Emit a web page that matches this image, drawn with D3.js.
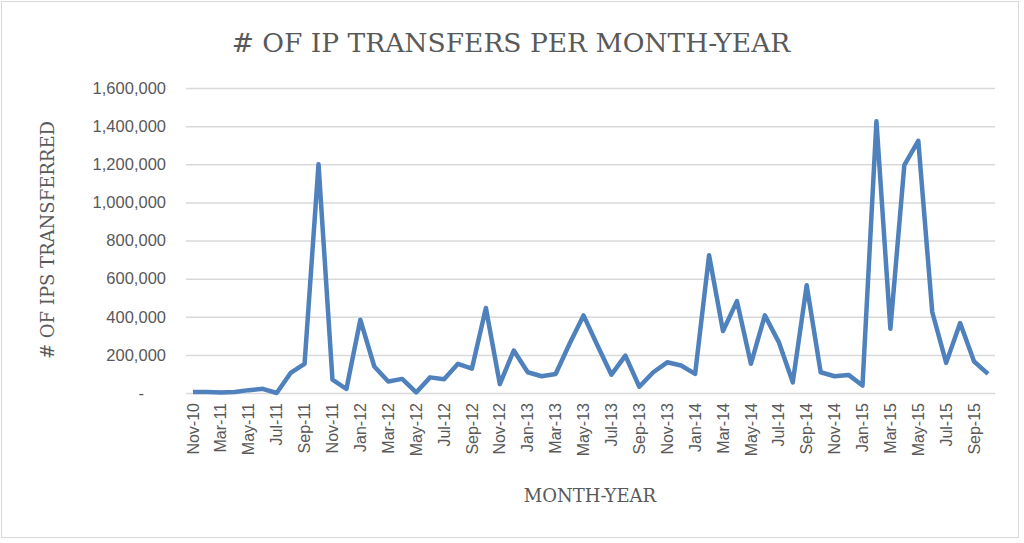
<!DOCTYPE html>
<html><head><meta charset="utf-8">
<script src="https://cdn.jsdelivr.net/npm/d3@7"></script>
<style>body{margin:0;background:#fff}</style></head>
<body><svg id="c" width="1024" height="543"></svg>
<script>
const months = ["Nov-10","Jan-11","Mar-11","Apr-11","May-11","Jun-11","Jul-11","Aug-11","Sep-11","Oct-11","Nov-11","Dec-11",
"Jan-12","Feb-12","Mar-12","Apr-12","May-12","Jun-12","Jul-12","Aug-12","Sep-12","Oct-12","Nov-12","Dec-12",
"Jan-13","Feb-13","Mar-13","Apr-13","May-13","Jun-13","Jul-13","Aug-13","Sep-13","Oct-13","Nov-13","Dec-13",
"Jan-14","Feb-14","Mar-14","Apr-14","May-14","Jun-14","Jul-14","Aug-14","Sep-14","Oct-14","Nov-14","Dec-14",
"Jan-15","Feb-15","Mar-15","Apr-15","May-15","Jun-15","Jul-15","Aug-15","Sep-15","Oct-15"];
const transfers = [5000,5000,2000,5000,15000,22000,0,105000,153000,1200000,70000,21000,
384000,139000,60000,74000,3000,82000,72000,153000,128000,446000,47000,223000,
109000,88000,100000,258000,407000,249000,96000,196000,33000,109000,161000,144000,
100000,723000,325000,482000,153000,407000,267000,56000,565000,109000,88000,95000,
39000,1425000,337000,1196000,1323000,425000,158000,367000,165000,100000];
const yTicks = [0,200000,400000,600000,800000,1000000,1200000,1400000,1600000];

const svg = d3.select("#c");
svg.append("rect").attr("x",1.5).attr("y",1.5).attr("width",1017).attr("height",536)
  .attr("fill","#fff").attr("stroke","#d9d9d9");
const L=186,R=995,T=88,B=393;
const x = d3.scaleBand().domain(months).range([L,R]);
const y = d3.scaleLinear().domain([0,1600000]).range([B,T]);
const fmt = d3.format(",");
const sans = "'Liberation Sans', Arial, sans-serif";
const serif = "'DejaVu Serif', 'Liberation Serif', serif";

const ya = svg.append("g").attr("transform",`translate(${L},0)`)
  .call(d3.axisLeft(y).tickValues(yTicks).tickSize(-(R-L)).tickPadding(20)
    .tickFormat(d=>d===0?"-":fmt(d)));
ya.select(".domain").remove();
ya.selectAll("line").attr("stroke","#d9d9d9").attr("stroke-width",1.5);
ya.selectAll("text").attr("font-family",sans).attr("font-size",16.5).attr("fill","#595959");
ya.selectAll(".tick").filter(d=>d===0).select("text").attr("dx",-22);

const xa = svg.append("g").attr("transform",`translate(0,${B})`)
  .call(d3.axisBottom(x).tickValues(months.filter((d,i)=>i%2===0)).tickSize(0).tickPadding(10));
xa.select(".domain").remove();
xa.selectAll("text").attr("font-family",sans).attr("font-size",16).attr("fill","#595959")
  .attr("transform","rotate(-90)").attr("text-anchor","end").attr("x",-10).attr("y",0).attr("dy","0.35em");

svg.append("path").datum(transfers)
  .attr("fill","none").attr("stroke","#4f81bd").attr("stroke-width",4.5).attr("stroke-linejoin","round")
  .attr("d",d3.line().x((d,i)=>x(months[i])+x.bandwidth()/2).y(d=>y(d)));

svg.append("text").attr("x",511).attr("y",52).attr("text-anchor","middle")
  .attr("font-family",serif).attr("font-size",26.5).attr("fill","#595959").text("# OF IP TRANSFERS PER MONTH-YEAR");
svg.append("text").attr("x",590).attr("y",502).attr("text-anchor","middle")
  .attr("font-family",serif).attr("font-size",18).attr("fill","#595959").text("MONTH-YEAR");
svg.append("text").attr("transform","translate(54,240) rotate(-90)").attr("text-anchor","middle")
  .attr("font-family",serif).attr("font-size",18).attr("fill","#595959").text("# OF IPS TRANSFERRED");
</script></body></html>
